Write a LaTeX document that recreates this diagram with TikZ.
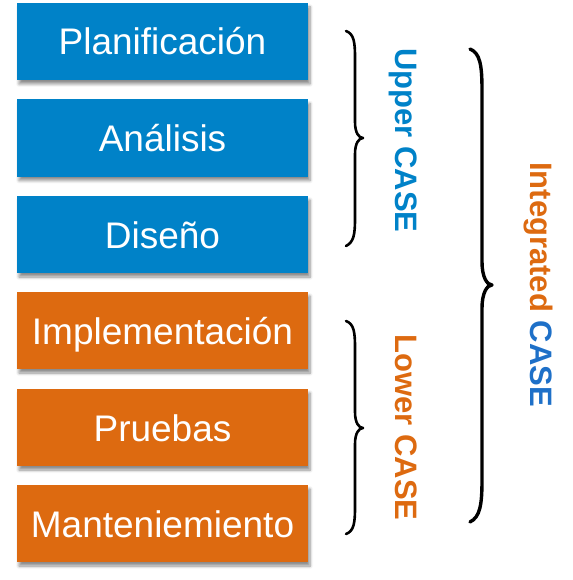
\documentclass[tikz,border=0pt]{standalone}
\usepackage{fontspec}
\setmainfont{Liberation Sans}
\usetikzlibrary{shadows.blur}
\definecolor{boxblue}{RGB}{0,130,200}
\definecolor{boxorange}{RGB}{221,106,16}
\definecolor{caseblue}{RGB}{30,112,200}
\tikzset{
  phase/.style={minimum width=291pt, minimum height=77pt, inner sep=0pt,
    text=white, font=\fontsize{37}{40}\selectfont, text height=27pt, text depth=0pt,
    blur shadow={shadow xshift=2pt, shadow yshift=-4pt, shadow blur steps=6, shadow blur radius=3pt, shadow opacity=45}},
  bluephase/.style={phase, fill=boxblue},
  orangephase/.style={phase, fill=boxorange},
  caselabel/.style={rotate=-90, inner sep=0pt, font=\fontsize{31}{34}\selectfont\bfseries, text height=22.5pt, text depth=0pt},
  bracepath/.style={draw=black, line cap=round, line join=round}
}
\begin{document}
\begin{tikzpicture}[x=1pt,y=-1pt]
\useasboundingbox (0,0) rectangle (572,580);
\node[bluephase] (plan) at (162.5,41.5) {Planificación};
\node[bluephase] (anal) at (162.5,138) {Análisis};
\node[bluephase] (dise) at (162.5,234.5) {Diseño};
\node[orangephase] (impl) at (162.5,330.5) {Implementación};
\node[orangephase] (prue) at (162.5,427.5) {Pruebas};
\node[orangephase] (mant) at (162.5,523.5) {Manteniemiento};
% upper brace
\draw[bracepath, line width=2.6pt] (346,31) .. controls (354,34) and (355,42) .. (355,58)
  -- (355,122) .. controls (355,133) and (359,138) .. (363,138)
  .. controls (359,138) and (355,143) .. (355,154)
  -- (355,218) .. controls (355,234) and (354,242) .. (346,246);
% lower brace
\draw[bracepath, line width=2.6pt] (346,321) .. controls (354,324) and (355,332) .. (355,348)
  -- (355,412) .. controls (355,423) and (359,428) .. (363,428)
  .. controls (359,428) and (355,433) .. (355,444)
  -- (355,507) .. controls (355,523) and (354,531) .. (346,534);
% integrated brace
\draw[bracepath, line width=3.4pt] (470,49) .. controls (480,53) and (482,65) .. (482,90)
  -- (482,262) .. controls (482,277) and (487,285) .. (492,285)
  .. controls (487,285) and (482,293) .. (482,308)
  -- (482,480) .. controls (482,505) and (480,517) .. (470,522);
\node[caselabel, text=boxblue] (upper) at (406.5,140.5) {Upper CASE};
\node[caselabel, text=boxorange] (lower) at (406.5,427.5) {Lower CASE};
\node[caselabel] (integ) at (541.5,284.5) {\textcolor{boxorange}{Integrated} \textcolor{caseblue}{CASE}};
\end{tikzpicture}
\end{document}
